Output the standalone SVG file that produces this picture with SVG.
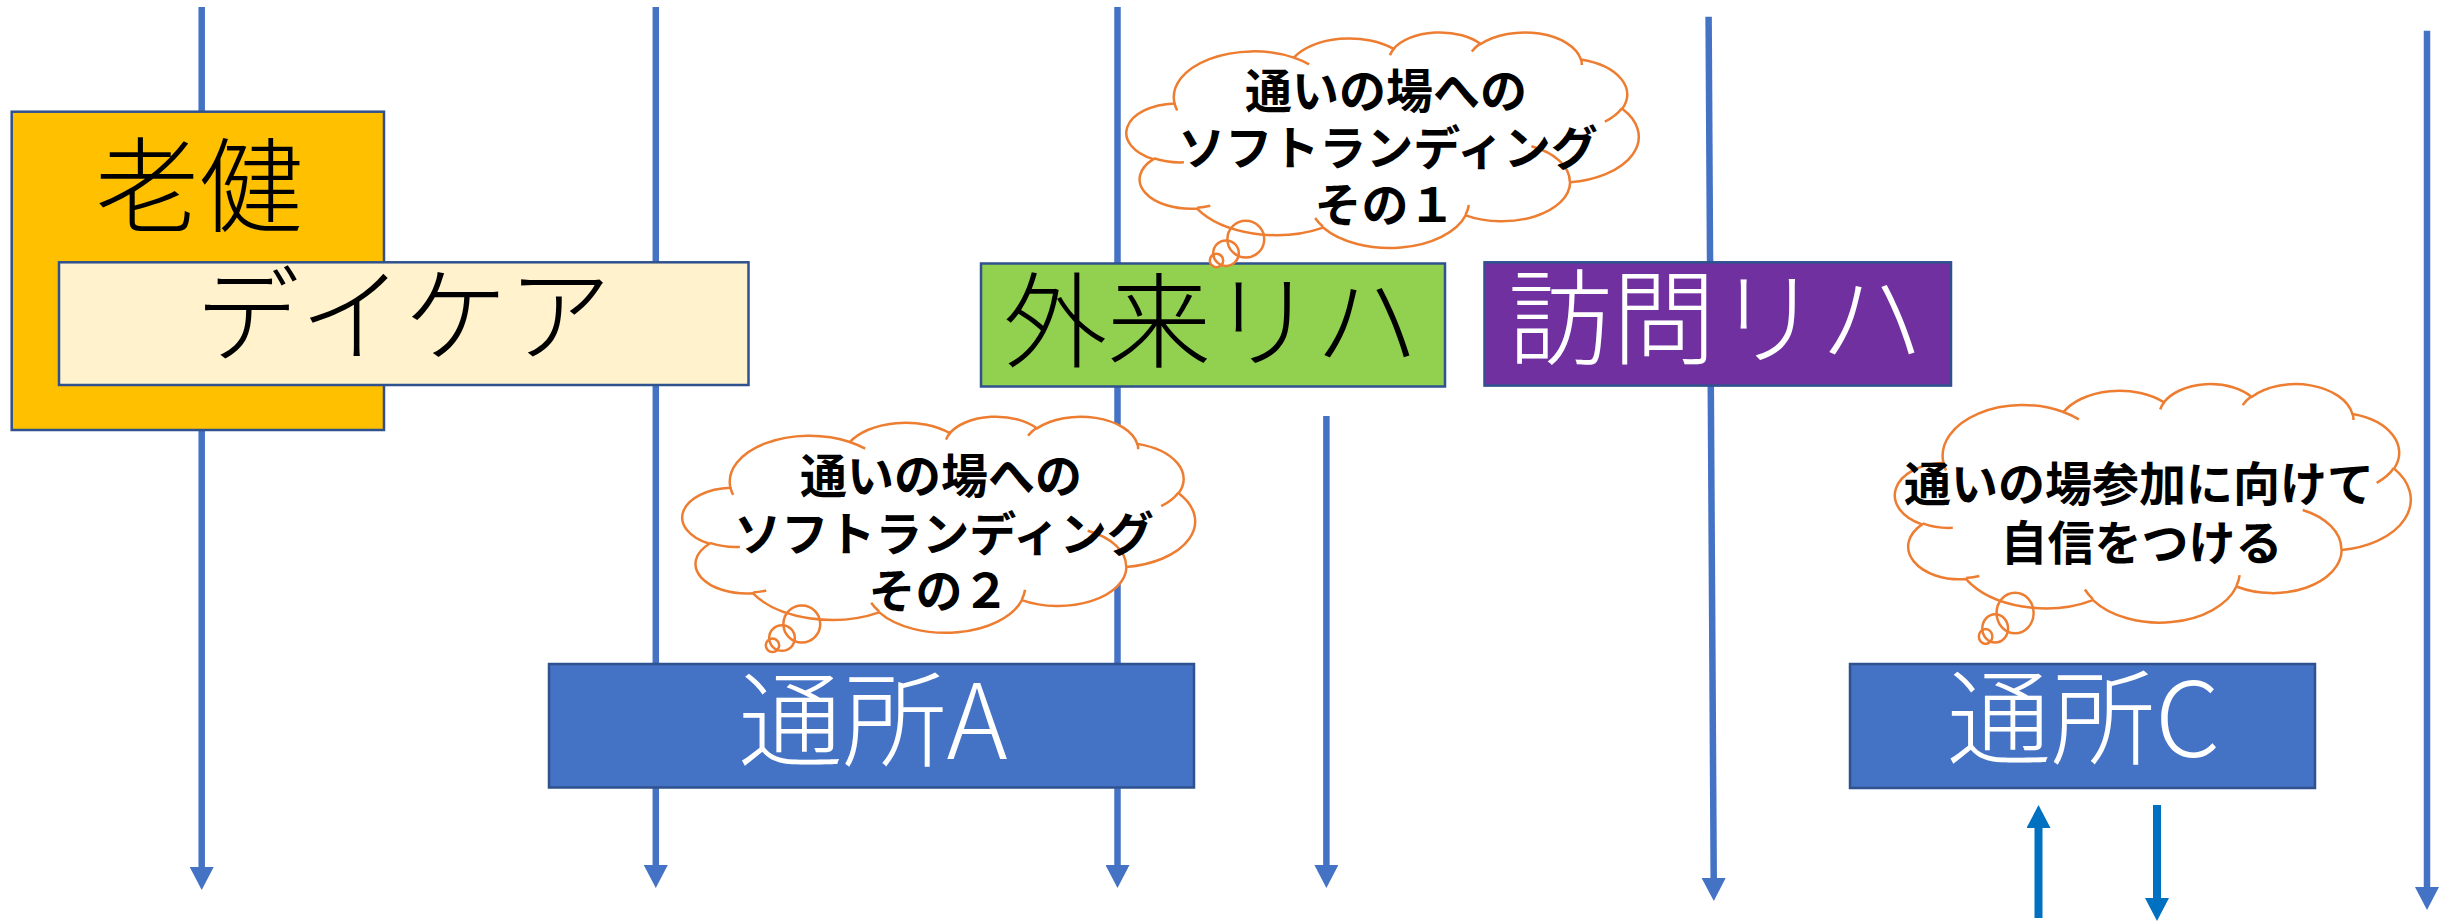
<svg xmlns="http://www.w3.org/2000/svg" xmlns:xlink="http://www.w3.org/1999/xlink" width="2449" height="921" viewBox="0 0 2449 921">
<defs>
<style>
.ln{fill:none;stroke:#4472C4;stroke-width:6.5;marker-end:url(#ah)}
.ln2{fill:none;stroke:#0070C0;stroke-width:8;marker-end:url(#ah2)}
.box{stroke:#2F528F;stroke-width:2.5}
.big{font-family:"Noto Sans CJK JP","Noto Sans CJK SC",sans-serif;font-size:104px;font-weight:300;text-anchor:middle}
.ct{font-family:"Noto Sans CJK JP","Noto Sans CJK SC",sans-serif;font-size:47px;font-weight:700;text-anchor:middle;fill:#000}
.cf{fill:#FFFFFF;stroke:none}
.cs{fill:none;stroke:#ED7D31;stroke-width:2.5}
</style>
<marker id="ah" markerUnits="userSpaceOnUse" markerWidth="23" markerHeight="24" viewBox="0 0 23 24" refX="0" refY="12" orient="auto"><path d="M0,0 L23,12 L0,24 Z" fill="#4472C4"/></marker>
<marker id="ah2" markerUnits="userSpaceOnUse" markerWidth="23" markerHeight="24" viewBox="0 0 23 24" refX="0" refY="12" orient="auto"><path d="M0,0 L23,12 L0,24 Z" fill="#0070C0"/></marker>
<g id="cloudGeom">
<path vector-effect="non-scaling-stroke" d="M3900 14370 A6753 9190 0 0 1 14005 5202 A5333 7267 0 0 1 22458 3432 A4365 5945 0 0 1 29834 2478 A4857 6595 0 0 1 38319 5573 A5333 7273 0 0 1 41820 15457 A6775 9220 0 0 1 37407 30202 A5785 7867 0 0 1 28559 36813 A6752 9215 0 0 1 16485 39265 A7720 10543 0 0 1 5808 35469 A4360 5918 0 0 1 2115 25550 A4345 5945 0 0 1 3900 14370 Z"/>
<ellipse vector-effect="non-scaling-stroke" cx="9936" cy="41600" rx="1559" ry="3680"/>
<ellipse vector-effect="non-scaling-stroke" cx="8259" cy="44400" rx="1084" ry="2560"/>
<ellipse vector-effect="non-scaling-stroke" cx="7454" cy="45860" rx="568" ry="1340"/>
</g>
<path id="cloudCrease" vector-effect="non-scaling-stroke" d="M4693 26177 A4345 5945 0 0 1 2159 25380 M6928 34899 A4360 5918 0 0 1 5819 35281 M16478 39090 A6752 9215 0 0 1 15809 37348 M28827 34751 A6752 9215 0 0 1 28560 36661 M34129 22954 A5785 7867 0 0 1 37381 30090 M41798 15354 A5333 7273 0 0 1 40350 18031 M38324 5426 A4857 6595 0 0 1 38400 6665 M29078 3952 A4857 6595 0 0 1 29820 2340 M22141 4720 A4365 5945 0 0 1 22500 3331 M14000 5192 A6753 9190 0 0 1 15301 6541 M4127 15789 A6753 9190 0 0 1 3900 14370"/>
</defs>
<rect width="2449" height="921" fill="#FFFFFF"/>
<g id="connectors">
<path class="ln" d="M201.7 7 L201.7 867"/>
<path class="ln" d="M655.8 7 L655.8 865"/>
<path class="ln" d="M1117.5 7 L1117.5 865"/>
<path class="ln" d="M1326.4 416 L1326.4 865"/>
<path class="ln" d="M1708.6 16.7 L1713.7 878"/>
<path class="ln" d="M2427 30.7 L2427 887"/>
<path class="ln2" d="M2038.5 918 L2038.5 828"/>
<path class="ln2" d="M2157 805 L2157 898"/>
</g>
<g id="roken">
<rect class="box" x="11.7" y="111.7" width="372.3" height="318.3" fill="#FFC000"/>
<text class="big" x="199" y="224.5" fill="#000000">老健</text>
</g>
<g id="daycare">
<rect class="box" x="59" y="262.3" width="689.5" height="122.7" fill="#FFF2CC"/>
<text class="big" x="403.5" y="354" fill="#000000">デイケア</text>
</g>
<g id="gairai">
<rect class="box" x="981" y="263.5" width="464" height="123" fill="#92D050"/>
<text class="big" x="1211" y="360" fill="#000000">外来リハ</text>
</g>
<g id="houmon">
<rect class="box" x="1484.5" y="262.3" width="466.5" height="123.3" fill="#7030A0"/>
<text class="big" x="1716" y="356.5" fill="#FFFFFF">訪問リハ</text>
</g>
<g id="tsushoA">
<rect class="box" x="549" y="664" width="645" height="123.5" fill="#4472C4"/>
<text class="big" x="873" y="759" fill="#FFFFFF">通所A</text>
</g>
<g id="tsushoC">
<rect class="box" x="1850" y="664" width="465" height="124" fill="#4472C4"/>
<text class="big" x="2083.5" y="757" fill="#FFFFFF">通所C</text>
</g>
<g id="cloud1">
<g transform="translate(1128.5 31.7) scale(0.0118056 0.0049884)">
<use xlink:href="#cloudGeom" href="#cloudGeom" class="cf"/>
<use xlink:href="#cloudGeom" href="#cloudGeom" class="cs"/>
<use xlink:href="#cloudCrease" href="#cloudCrease" class="cs"/>
</g>
<text class="ct" x="1386" y="108">通いの場への</text>
<text class="ct" x="1388" y="165">ソフトランディング</text>
<text class="ct" x="1385" y="222">その１</text>
</g>
<g id="cloud2">
<g transform="translate(684.4 416) scale(0.011817 0.005)">
<use xlink:href="#cloudGeom" href="#cloudGeom" class="cf"/>
<use xlink:href="#cloudGeom" href="#cloudGeom" class="cs"/>
<use xlink:href="#cloudCrease" href="#cloudCrease" class="cs"/>
</g>
<text class="ct" x="941" y="493">通いの場への</text>
<text class="ct" x="944" y="551">ソフトランディング</text>
<text class="ct" x="939" y="608">その２</text>
</g>
<g id="cloud3">
<g transform="translate(1897 383.3) scale(0.011887 0.0055208)">
<use xlink:href="#cloudGeom" href="#cloudGeom" class="cf"/>
<use xlink:href="#cloudGeom" href="#cloudGeom" class="cs"/>
<use xlink:href="#cloudCrease" href="#cloudCrease" class="cs"/>
</g>
<text class="ct" x="2139" y="500.5">通いの場参加に向けて</text>
<text class="ct" x="2141.5" y="560">自信をつける</text>
</g>
</svg>
